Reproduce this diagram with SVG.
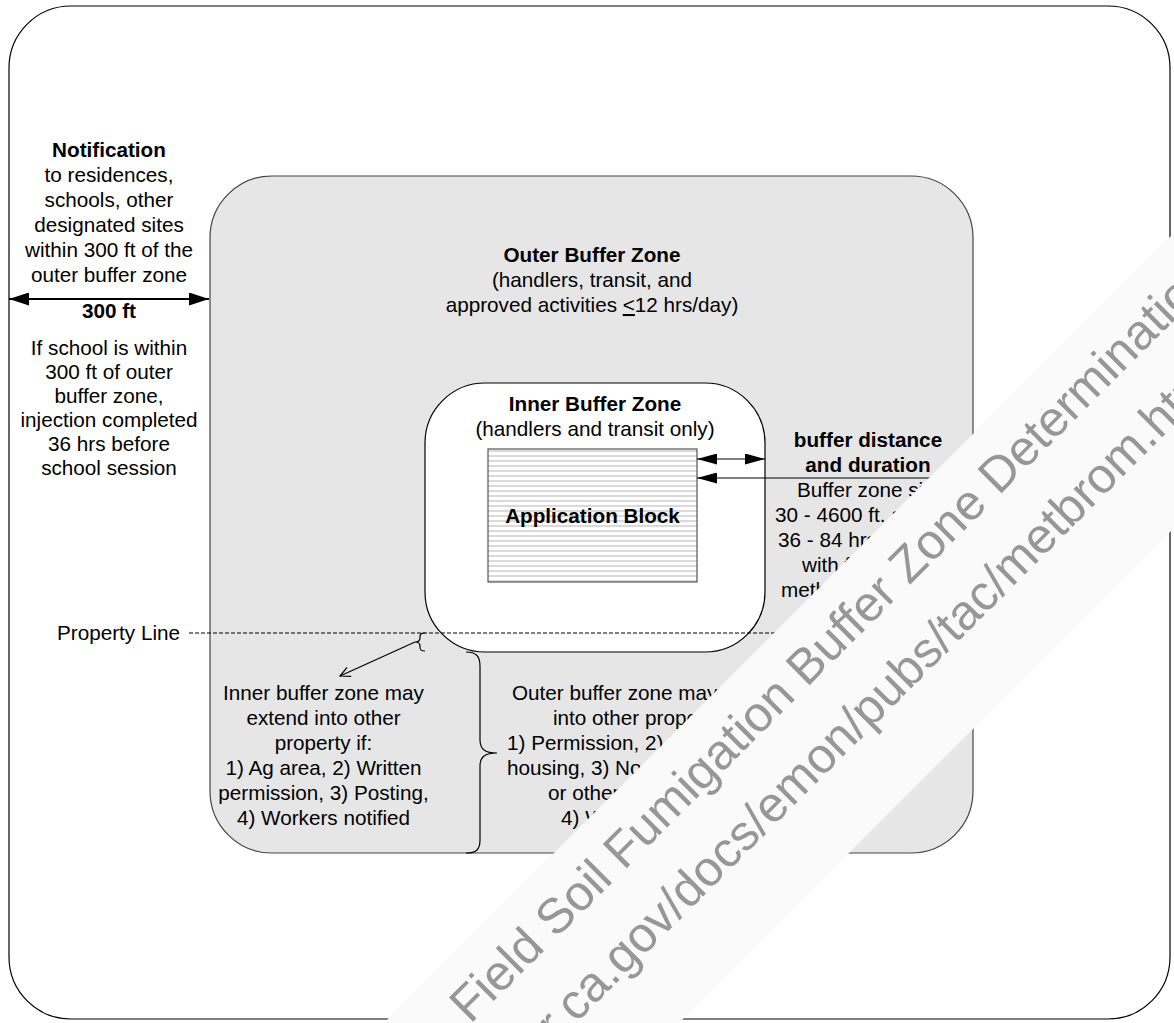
<svg xmlns="http://www.w3.org/2000/svg" width="1174" height="1023" viewBox="0 0 1174 1023">
<style>
text{font-family:"Liberation Sans",Arial,Helvetica,sans-serif;font-size:20.7px;fill:#000}
.b{font-weight:bold}
.c{text-anchor:middle}
.ln{stroke:#000;stroke-width:1.2;fill:none}
.wm{font-size:49.5px;fill:#979797}
</style>
<defs>
<pattern id="stripes" width="10" height="5" patternUnits="userSpaceOnUse">
<rect width="10" height="5" fill="#fff"/>
<rect y="0" width="10" height="2" fill="#dadada"/>
</pattern>
<marker id="ah" viewBox="0 0 20 11" refX="20" refY="5.5" markerWidth="20" markerHeight="11" markerUnits="userSpaceOnUse" orient="auto-start-reverse">
<path d="M0,0 L20,5.5 L0,11 z" fill="#000"/>
</marker>
<marker id="ahb" viewBox="0 0 20 13" refX="20" refY="6.5" markerWidth="20" markerHeight="13" markerUnits="userSpaceOnUse" orient="auto-start-reverse">
<path d="M0,0 L20,6.5 L0,13 z" fill="#000"/>
</marker>
<marker id="open" viewBox="0 0 12 12" refX="11" refY="6" markerWidth="12" markerHeight="12" markerUnits="userSpaceOnUse" orient="auto">
<path d="M1,1 L11,6 L1,11" fill="none" stroke="#000" stroke-width="1.2"/>
</marker>
</defs>
<rect width="1174" height="1023" fill="#fff"/>

<g id="frame">
<rect x="9" y="6" width="1161" height="1013" rx="62" ry="62" fill="#fff" stroke="#000" stroke-width="1.2"/>
</g>

<g id="outer-buffer">
<rect x="210" y="176" width="763" height="677" rx="62" ry="62" fill="#e6e6e6" stroke="#444" stroke-width="1.2"/>
<text class="b c" x="592" y="262">Outer Buffer Zone</text>
<text class="c" x="592" y="287">(handlers, transit, and</text>
<text class="c" x="592" y="312">approved activities <tspan style="text-decoration:underline">&lt;</tspan>12 hrs/day)</text>
</g>

<g id="inner-buffer">
<rect x="425" y="383" width="340" height="269" rx="60" ry="60" fill="#fff" stroke="#000" stroke-width="1.2"/>
<text class="b c" x="595" y="411">Inner Buffer Zone</text>
<text class="c" x="595" y="436">(handlers and transit only)</text>
</g>

<g id="application-block">
<rect x="488" y="449" width="209" height="133" fill="url(#stripes)" stroke="#555" stroke-width="1.2"/>
<text class="b c" x="592.5" y="523">Application Block</text>
</g>

<g id="notification">
<text class="b c" x="109" y="157">Notification</text>
<text class="c" x="109" y="182">to residences,</text>
<text class="c" x="109" y="207">schools, other</text>
<text class="c" x="109" y="232">designated sites</text>
<text class="c" x="109" y="257">within 300 ft of the</text>
<text class="c" x="109" y="282">outer buffer zone</text>
<text class="b c" x="109" y="318">300 ft</text>
<text class="c" x="109" y="355">If school is within</text>
<text class="c" x="109" y="379">300 ft of outer</text>
<text class="c" x="109" y="403">buffer zone,</text>
<text class="c" x="109" y="427">injection completed</text>
<text class="c" x="109" y="451">36 hrs before</text>
<text class="c" x="109" y="475">school session</text>
</g>

<g id="buffer-distance">
<text class="b c" x="868" y="447">buffer distance</text>
<text class="b c" x="868" y="472">and duration</text>
<text x="797" y="497">Buffer zone siz</text>
<text x="775" y="522">30 - 4600 ft. and</text>
<text x="778" y="547">36 - 84 hrs</text>
<text x="802" y="572">with f</text>
<text x="781" y="597">meth</text>
</g>

<g id="property-line">
<text x="57" y="640">Property Line</text>
</g>

<g id="inner-extend">
<text class="c" x="323.5" y="700">Inner buffer zone may</text>
<text class="c" x="323.5" y="725">extend into other</text>
<text class="c" x="323.5" y="750">property if:</text>
<text class="c" x="323.5" y="775">1) Ag area, 2) Written</text>
<text class="c" x="323.5" y="800">permission, 3) Posting,</text>
<text class="c" x="323.5" y="825">4) Workers notified</text>
</g>

<g id="outer-extend">
<text x="512" y="700">Outer buffer zone may e</text>
<text x="553" y="725">into other proper</text>
<text x="507" y="750">1) Permission, 2) N</text>
<text x="507" y="775">housing, 3) No</text>
<text x="548" y="800">or other</text>
<text x="561" y="825">4) Wo</text>
</g>

<g id="connectors">
<line x1="9" y1="299" x2="209" y2="299" stroke="#000" stroke-width="2" marker-start="url(#ahb)" marker-end="url(#ahb)"/>
<line x1="697" y1="459" x2="765" y2="459" stroke="#000" stroke-width="1.2" marker-start="url(#ah)" marker-end="url(#ah)"/>
<line x1="973" y1="478" x2="697" y2="478" stroke="#000" stroke-width="1.2" marker-end="url(#ah)"/>
<line x1="189" y1="633" x2="973" y2="633" stroke="#000" stroke-width="1.2" stroke-dasharray="4 2"/>
<path class="ln" d="M425,633 C420,633 420,635 420,637 L420,638 C420,641 418,642 415,642 C418,642 420,643 420,646 L420,647 C420,650 421,651 425,651"/>
<line x1="415" y1="642" x2="340" y2="676" stroke="#000" stroke-width="1.2" marker-end="url(#open)"/>
<path class="ln" d="M466,652 C476,652 480,656 480,666 L480,740 C480,750 486,753 497,753 C486,753 480,756 480,766 L480,840 C480,850 476,853 466,853"/>
</g>

<g id="watermark">
<polygon points="384,1023 1174,233 1174,528 679,1023" fill="#fafafa"/>
<g transform="rotate(-45)">
<text class="wm" x="-392" y="1057">Field Soil Fumigation Buffer Zone Determination</text>
<text class="wm" x="-542" y="1131">www.cdpr.ca.gov/docs/emon/pubs/tac/metbrom.htm</text>
</g>
</g>
</svg>
